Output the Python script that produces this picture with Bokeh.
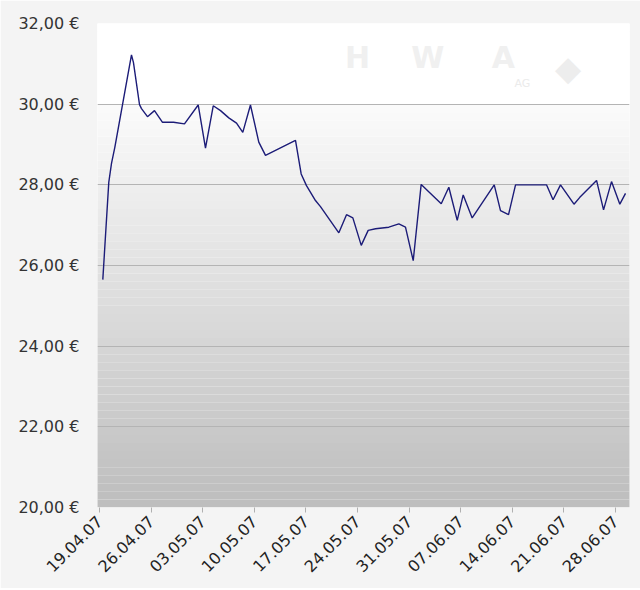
import numpy as np
from bokeh.plotting import figure
from bokeh.models import FixedTicker, CustomJSTickFormatter, Range1d, Label
from bokeh.embed import file_html
from bokeh.resources import INLINE

# Days since 19.04.07 (positions) and share price in EUR
days = [0.45, 1.26, 1.63, 2.08, 4.34, 4.61, 5.43, 5.70, 6.51, 7.46, 8.55, 10.04,
        11.53, 13.39, 14.38, 15.43, 16.42, 17.54, 18.59, 19.44, 20.48, 21.61,
        22.52, 26.59, 27.36, 28.08, 29.30, 29.98, 32.47, 33.51, 34.37, 35.51,
        36.45, 37.45, 39.25, 40.61, 41.51, 42.56, 43.64, 46.36, 47.39, 48.53,
        49.34, 50.56, 53.55, 54.40, 55.49, 56.44, 60.64, 61.53, 62.54, 64.37,
        65.16, 67.43, 68.38, 69.46, 70.59, 71.36]
price = [25.65, 28.06, 28.53, 28.93, 31.22, 31.03, 29.99, 29.89, 29.69, 29.84,
         29.55, 29.55, 29.51, 29.98, 28.91, 29.96, 29.84, 29.66, 29.53, 29.30,
         29.98, 29.06, 28.73, 29.10, 28.27, 27.98, 27.61, 27.46, 26.81, 27.26,
         27.18, 26.50, 26.87, 26.91, 26.95, 27.03, 26.95, 26.12, 28.01, 27.53,
         27.94, 27.12, 27.75, 27.18, 28.00, 27.36, 27.26, 28.00, 28.00, 27.63,
         28.00, 27.52, 27.69, 28.11, 27.38, 28.08, 27.52, 27.79]

tick_days = [0, 7, 14, 21, 28, 35, 42, 49, 56, 63, 70]
tick_labels = ["19.04.07", "26.04.07", "03.05.07", "10.05.07", "17.05.07",
               "24.05.07", "31.05.07", "07.06.07", "14.06.07", "21.06.07",
               "28.06.07"]
y_ticks = [20, 22, 24, 26, 28, 30, 32]

FONT = "DejaVu Sans"

p = figure(width=640, height=588, output_backend="svg", toolbar_location=None,
           x_range=Range1d(-0.27, 71.9), y_range=Range1d(20, 32),
           min_border_left=97, min_border_right=11, min_border_top=23,
           min_border_bottom=81)
p.background_fill_color = "#ffffff"
p.border_fill_color = "#f4f4f4"
p.outline_line_color = None

# vertical gradient background (style only)
nb = 60
edges = np.linspace(20, 32, nb + 1)
cols = []
for i in range(nb):
    mid = (edges[i] + edges[i + 1]) / 2
    if mid >= 30:
        c = 255
    else:
        c = int(round(189 + (mid - 20) / 10 * (251 - 189)))
    cols.append("#%02x%02x%02x" % (c, c, c))
p.quad(left=-1, right=80, bottom=edges[:-1], top=edges[1:], fill_color=cols,
       line_color=None, level="underlay")

# watermark (logo-like decoration)
for lx, lt in [(33.3, "H"), (42.3, "W"), (53.2, "A")]:
    p.add_layout(Label(x=lx, y=30.72, text=lt, text_font=FONT,
                       text_font_style="bold", text_font_size="30px",
                       text_color="#f0f0f0"))
p.add_layout(Label(x=56.3, y=30.35, text="AG",
                   text_font=FONT, text_font_size="11px",
                   text_color="#ebebeb"))
p.add_layout(Label(x=61.8, y=30.4, text="\u25c6",
                   text_font=FONT, text_font_size="34px",
                   text_color="#ededed"))

p.line(days, price, line_color="#1c1c78", line_width=1.4)

p.grid.grid_line_color = None
p.ygrid.grid_line_color = "#b4b4b4"
p.ygrid.grid_line_width = 1
p.ygrid.level = "underlay"

p.yaxis.ticker = FixedTicker(ticks=y_ticks)
p.yaxis.formatter = CustomJSTickFormatter(
    code="return tick.toFixed(2).replace('.', ',') + ' \u20ac';")
p.yaxis.axis_line_color = None
p.yaxis.major_tick_line_color = None
p.yaxis.minor_tick_line_color = None
p.yaxis.major_label_standoff = 12
p.yaxis.major_label_text_font = FONT
p.yaxis.major_label_text_font_size = "16px"
p.yaxis.major_label_text_color = "#333333"

p.xaxis.ticker = FixedTicker(ticks=tick_days)
p.xaxis.major_label_overrides = {d: l for d, l in zip(tick_days, tick_labels)}
p.xaxis.major_label_orientation = np.pi / 4
p.xaxis.axis_line_color = None
p.xaxis.major_tick_line_color = "#b0b0b0"
p.xaxis.major_tick_in = 0
p.xaxis.major_tick_out = 5
p.xaxis.minor_tick_line_color = None
p.xaxis.major_label_standoff = 6
p.xaxis.major_label_text_font = FONT
p.xaxis.major_label_text_font_size = "16px"
p.xaxis.major_label_text_color = "#222222"

open("out.html", "w").write(file_html(p, INLINE))
